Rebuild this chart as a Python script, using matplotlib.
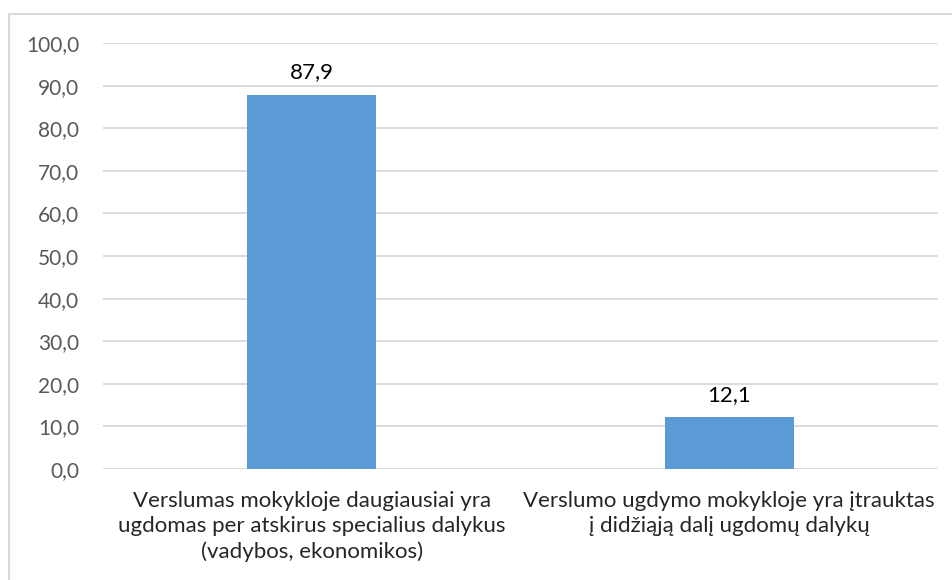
import matplotlib
matplotlib.use("Agg")
import matplotlib.pyplot as plt
from matplotlib.patches import Rectangle

categories = [
    "Verslumas mokykloje daugiausiai yra\nugdomas per atskirus specialius dalykus\n(vadybos, ekonomikos)",
    "Verslumo ugdymo mokykloje yra įtrauktas\nį didžiąją dalį ugdomų dalykų",
]
values = [87.9, 12.1]
value_labels = ["87,9", "12,1"]
yticks = [0, 10, 20, 30, 40, 50, 60, 70, 80, 90, 100]
ytick_labels = ["0,0", "10,0", "20,0", "30,0", "40,0", "50,0", "60,0", "70,0", "80,0", "90,0", "100,0"]

plt.rcParams['font.family'] = ['Lato', 'DejaVu Sans']

W, H = 952, 580
fig = plt.figure(figsize=(W / 100, H / 100), dpi=100)
fig.patch.set_facecolor("white")

# outer chart border
fig.patches.append(Rectangle((9 / W, -0.1), 2, 0.1 + (H - 14) / H, transform=fig.transFigure,
                             fill=False, edgecolor="#d9d9d9", linewidth=1.5))

left, right, top, bottom = 103, 938, 43, 469
ax = fig.add_axes([left / W, 1 - bottom / H, (right - left) / W, (bottom - top) / H])

x = list(range(len(categories)))
ax.bar(x, values, width=0.31, color="#5b9bd5", zorder=3)
ax.set_xlim(-0.5, 1.5)
ax.set_ylim(0, 100)
ax.set_yticks(yticks)
ax.set_yticklabels(ytick_labels, fontsize=15, color="#595959")
ax.set_xticks(x)
ax.set_xticklabels(categories, fontsize=16, color="#262626", linespacing=1.32)
ax.tick_params(axis="both", length=0)
ax.tick_params(axis="y", pad=17)
ax.tick_params(axis="x", pad=16)
ax.grid(axis="y", color="#d9d9d9", linewidth=1.3, zorder=0)
for s in ax.spines.values():
    s.set_visible(False)

for xi, v, lab in zip(x, values, value_labels):
    ax.annotate(lab, (xi, v), xytext=(0, 9), textcoords="offset points",
                ha="center", va="bottom", fontsize=16, color="#000000")

fig.savefig("out.png", dpi=100)
